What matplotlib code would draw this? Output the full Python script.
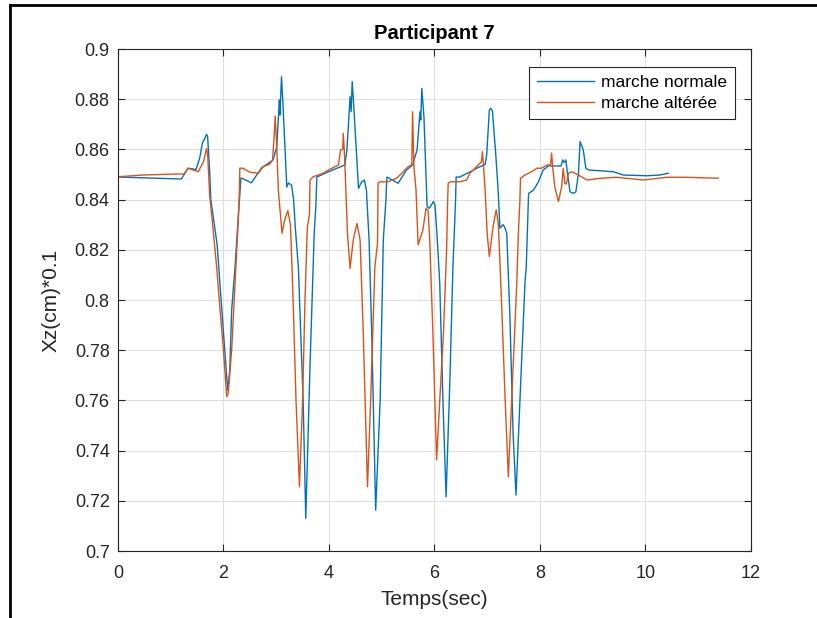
import matplotlib
matplotlib.use('Agg')
import matplotlib.pyplot as plt
from matplotlib.lines import Line2D
import numpy as np

plt.rcParams['font.family'] = ['Liberation Sans', 'DejaVu Sans']

# marche normale (blue)
t_norm = [0.00, 1.20, 1.33, 1.48, 1.55, 1.60, 1.68, 1.70, 1.74, 1.76, 1.88,
          2.00, 2.08, 2.12, 2.155, 2.22, 2.28, 2.31, 2.33, 2.35, 2.53, 2.72,
          2.94, 3.01, 3.06, 3.07, 3.10, 3.13, 3.20, 3.23, 3.29, 3.33, 3.36,
          3.42, 3.51, 3.56, 3.64, 3.72, 3.75, 3.77, 3.98, 4.30, 4.34, 4.40,
          4.42, 4.44, 4.47, 4.56, 4.62, 4.67, 4.71, 4.76, 4.81, 4.885, 4.97,
          5.03, 5.08, 5.09, 5.10, 5.31, 5.47, 5.585, 5.67, 5.725, 5.74, 5.76,
          5.80, 5.86, 5.90, 5.98, 6.01, 6.05, 6.10, 6.16, 6.22, 6.29, 6.35,
          6.40, 6.41, 6.48, 6.67, 6.80, 6.96, 6.99, 7.04, 7.07, 7.10, 7.16,
          7.21, 7.24, 7.30, 7.33, 7.37, 7.43, 7.49, 7.545, 7.62, 7.715, 7.74,
          7.78, 7.785, 7.88, 7.97, 8.06, 8.16, 8.40, 8.43, 8.46, 8.49, 8.52,
          8.57, 8.63, 8.68, 8.73, 8.76, 8.82, 8.87, 8.92, 9.14, 9.39, 9.58,
          10.02, 10.27, 10.43]
x_norm = [0.8490, 0.8482, 0.8525, 0.8520, 0.8566, 0.8625, 0.8660, 0.8650,
          0.8506, 0.8400, 0.8220, 0.7870, 0.7640, 0.7720, 0.7960, 0.8133,
          0.8330, 0.8420, 0.8486, 0.8485, 0.8467, 0.8526, 0.8558, 0.8610,
          0.8797, 0.8737, 0.8890, 0.8770, 0.8450, 0.8466, 0.8458, 0.8400,
          0.8292, 0.8130, 0.7600, 0.7130, 0.7734, 0.8267, 0.8370, 0.8490,
          0.8510, 0.8538, 0.8598, 0.8810, 0.8750, 0.8870, 0.8770, 0.8445,
          0.8471, 0.8478, 0.8438, 0.8240, 0.7870, 0.7163, 0.7600, 0.8240,
          0.8400, 0.8458, 0.8490, 0.8465, 0.8518, 0.8538, 0.8598, 0.8750,
          0.8717, 0.8843, 0.8730, 0.8372, 0.8365, 0.8392, 0.8378, 0.8250,
          0.8067, 0.7600, 0.7216, 0.7668, 0.8133, 0.8400, 0.8490, 0.8490,
          0.8510, 0.8525, 0.8540, 0.8578, 0.8757, 0.8764, 0.8750, 0.8585,
          0.8425, 0.8286, 0.8300, 0.8290, 0.8266, 0.7933, 0.7469, 0.7223,
          0.7600, 0.8067, 0.8133, 0.8400, 0.8425, 0.8438, 0.8471, 0.8518,
          0.8534, 0.8534, 0.8558, 0.8548, 0.8558, 0.8505, 0.8431, 0.8425,
          0.8431, 0.8505, 0.8631, 0.8598, 0.8525, 0.8518, 0.8515, 0.8511,
          0.8498, 0.8495, 0.8498, 0.8505]

# marche altérée (orange)
t_alt = [0.00, 0.48, 1.11, 1.25, 1.33, 1.52, 1.62, 1.68, 1.70, 1.74, 1.78,
         1.87, 1.93, 2.00, 2.06, 2.09, 2.155, 2.22, 2.28, 2.30, 2.31, 2.37,
         2.50, 2.66, 2.75, 2.88, 2.93, 2.96, 2.98, 3.01, 3.04, 3.11, 3.16,
         3.22, 3.27, 3.32, 3.375, 3.44, 3.50, 3.545, 3.59, 3.63, 3.64, 3.70,
         3.89, 3.99, 4.18, 4.22, 4.26, 4.27, 4.29, 4.32, 4.35, 4.40, 4.46,
         4.53, 4.59, 4.65, 4.73, 4.79, 4.87, 4.92, 4.93, 4.96, 5.12, 5.28,
         5.38, 5.50, 5.57, 5.585, 5.61, 5.65, 5.69, 5.78, 5.84, 5.88, 5.91,
         5.97, 6.04, 6.10, 6.17, 6.23, 6.25, 6.26, 6.30, 6.48, 6.61, 6.67,
         6.83, 6.89, 6.91, 6.93, 6.96, 7.00, 7.04, 7.11, 7.17, 7.21, 7.27,
         7.34, 7.40, 7.49, 7.56, 7.59, 7.62, 7.63, 7.715, 7.84, 7.94, 8.03,
         8.13, 8.20, 8.22, 8.24, 8.28, 8.35, 8.41, 8.44, 8.47, 8.50, 8.54,
         8.60, 8.73, 8.89, 9.14, 9.45, 9.96, 10.40, 10.78, 11.38]
x_alt = [0.8491, 0.8498, 0.8502, 0.8502, 0.8525, 0.8511, 0.8551, 0.8604,
         0.8578, 0.8412, 0.8332, 0.8133, 0.7973, 0.7800, 0.7615, 0.7628,
         0.7800, 0.8067, 0.8319, 0.8420, 0.8525, 0.8525, 0.8509, 0.8505,
         0.8531, 0.8542, 0.8558, 0.8650, 0.8733, 0.8610, 0.8438, 0.8266,
         0.8319, 0.8356, 0.8300, 0.8000, 0.7600, 0.7256, 0.7600, 0.8000,
         0.8292, 0.8339, 0.8478, 0.8491, 0.8505, 0.8518, 0.8538, 0.8598,
         0.8600, 0.8664, 0.8598, 0.8438, 0.8266, 0.8126, 0.8239, 0.8305,
         0.8239, 0.7867, 0.7256, 0.7600, 0.8133, 0.8226, 0.8465, 0.8471,
         0.8471, 0.8485, 0.8505, 0.8531, 0.8538, 0.8750, 0.8531, 0.8438,
         0.8220, 0.8279, 0.8365, 0.8355, 0.8239, 0.7867, 0.7363, 0.7600,
         0.7867, 0.8200, 0.8400, 0.8465, 0.8471, 0.8471, 0.8478, 0.8505,
         0.8538, 0.8551, 0.8591, 0.8531, 0.8438, 0.8260, 0.8173, 0.8292,
         0.8359, 0.8305, 0.8000, 0.7600, 0.7296, 0.7734, 0.8067, 0.8266,
         0.8400, 0.8485, 0.8498, 0.8511, 0.8525, 0.8525, 0.8538, 0.8538,
         0.8585, 0.8531, 0.8451, 0.8392, 0.8451, 0.8525, 0.8465, 0.8462,
         0.8505, 0.8511, 0.8498, 0.8478, 0.8485, 0.8489, 0.8478, 0.8489,
         0.8489, 0.8485]

x_ticks = [0, 2, 4, 6, 8, 10, 12]
y_ticks = [0.7, 0.72, 0.74, 0.76, 0.78, 0.8, 0.82, 0.84, 0.86, 0.88, 0.9]
y_labels = ['0.7', '0.72', '0.74', '0.76', '0.78', '0.8', '0.82', '0.84',
            '0.86', '0.88', '0.9']

fig = plt.figure(figsize=(8.17, 6.18), dpi=100)
ax = fig.add_axes([0.1444, 0.1084, 0.7748, 0.8123])

ax.plot(t_norm, x_norm, color='#0072BD', lw=1.0, label='marche normale')
ax.plot(t_alt, x_alt, color='#D95319', lw=1.0, label='marche altérée')

ax.set_xlim(0, 12)
ax.set_ylim(0.7, 0.9)
ax.set_xticks(x_ticks)
ax.set_yticks(y_ticks)
ax.set_yticklabels(y_labels)
ax.grid(True, color='#e0e0e0', lw=0.8)
ax.set_axisbelow(True)

axc = '#262626'
for s in ax.spines.values():
    s.set_color(axc)
    s.set_linewidth(0.8)
ax.tick_params(direction='in', length=5, width=0.8, colors=axc,
               top=True, right=True, labelsize=13)
ax.tick_params(axis='x', pad=10)
ax.tick_params(axis='y', pad=6)

ax.set_xlabel('Temps(sec)', fontsize=15, color=axc, labelpad=6)
ax.set_ylabel('Xz(cm)*0.1', fontsize=15, color=axc, labelpad=10)
ax.set_title('Participant 7', fontsize=14.5, fontweight='bold', pad=7)

leg = ax.legend(loc='upper right', bbox_to_anchor=(0.975, 0.964),
                fontsize=12.5, handlelength=3.3, handletextpad=0.4,
                borderpad=0.45, labelspacing=0.35, fancybox=False,
                framealpha=1, borderaxespad=0)
leg.get_frame().set_edgecolor(axc)
leg.get_frame().set_linewidth(0.8)

# outer frame lines
fig.add_artist(Line2D([10 / 817, 1.0], [1 - 5 / 618, 1 - 5 / 618],
                      transform=fig.transFigure, color='black', lw=2))
fig.add_artist(Line2D([10 / 817, 10 / 817], [0.0, 1 - 5 / 618],
                      transform=fig.transFigure, color='black', lw=2))

fig.savefig('out.png', dpi=100)
